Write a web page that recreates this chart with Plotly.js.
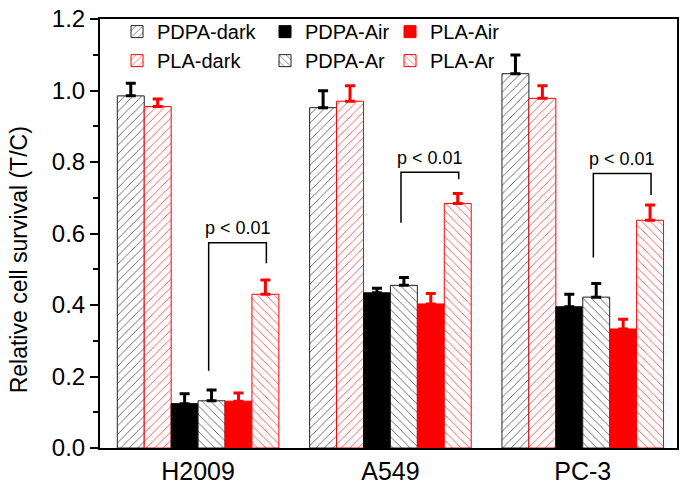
<!DOCTYPE html>
<html>
<head>
<meta charset="utf-8">
<script src="https://cdn.plot.ly/plotly-3.0.1.min.js"></script>
<style>html,body{margin:0;padding:0;background:#fff;}#chart{width:685px;height:486px;}</style>
</head>
<body>
<div id="chart"></div>
<script>
var categories = ["H2009", "A549", "PC-3"];
var seriesNames = ["PDPA-dark", "PLA-dark", "PDPA-Air", "PDPA-Ar", "PLA-Air", "PLA-Ar"];
var pdpaDark = [0.985, 0.952, 1.047];
var pdpaDarkErr = [0.035, 0.047, 0.052];
var plaDark = [0.955, 0.970, 0.978];
var plaDarkErr = [0.021, 0.043, 0.035];
var pdpaAir = [0.124, 0.434, 0.395];
var pdpaAirErr = [0.028, 0.013, 0.035];
var pdpaAr = [0.132, 0.455, 0.422];
var pdpaArErr = [0.030, 0.022, 0.038];
var plaAir = [0.131, 0.403, 0.333];
var plaAirErr = [0.023, 0.029, 0.027];
var plaAr = [0.430, 0.684, 0.637];
var plaArErr = [0.040, 0.028, 0.043];
var yTickVals = [0.0, 0.2, 0.4, 0.6, 0.8, 1.0, 1.2];
// significance brackets
var sigLabel = "p < 0.01";
var bracketTop = [0.574, 0.771, 0.768];
var bracketLeftBottom = [0.216, 0.630, 0.533];
var bracketRightBottom = [0.517, 0.752, 0.708];

var FONT = "Liberation Sans, Arial, sans-serif";
function mk(name, y, err, color, shape, legendId) {
  var marker;
  if (shape) {
    marker = {color: "white", line: {color: color === "black" ? "#222" : "#f00", width: 1},
      pattern: {shape: shape, fgcolor: color === "black" ? "#333" : "#f22", bgcolor: "white", size: 6, solidity: 0.12}};
  } else {
    marker = {color: color, line: {color: color, width: 1}};
  }
  return {
    type: "bar", name: name, x: categories, y: y,
    marker: marker, legend: legendId,
    error_y: {type: "data", symmetric: false, array: err, arrayminus: err.map(function(){return 0;}),
      color: color === "black" ? "black" : "#f00", thickness: 3, width: 5}
  };
}
var data = [
  mk(seriesNames[0], pdpaDark, pdpaDarkErr, "black", "/", "legend"),
  mk(seriesNames[1], plaDark, plaDarkErr, "red", "/", "legend"),
  mk(seriesNames[2], pdpaAir, pdpaAirErr, "black", null, "legend2"),
  mk(seriesNames[3], pdpaAr, pdpaArErr, "black", "\\", "legend2"),
  mk(seriesNames[4], plaAir, plaAirErr, "#f00", null, "legend3"),
  mk(seriesNames[5], plaAr, plaArErr, "red", "\\", "legend3")
];

var shapes = [], annotations = [];
var offL = 0.055, offR = 0.355;
for (var i = 0; i < categories.length; i++) {
  shapes.push({type: "path", xref: "x", yref: "y",
    path: "M" + (i + offL) + "," + bracketLeftBottom[i] + " L" + (i + offL) + "," + bracketTop[i] +
          " L" + (i + offR) + "," + bracketTop[i] + " L" + (i + offR) + "," + bracketRightBottom[i],
    line: {color: "black", width: 1.5}});
  annotations.push({xref: "x", yref: "y", x: i + (offL + offR) / 2, y: bracketTop[i] + 0.008,
    text: sigLabel, showarrow: false, yanchor: "bottom", font: {family: FONT, size: 18, color: "black"}});
}
annotations.push({xref: "paper", yref: "paper", x: -0.14, y: 0.438, xanchor: "center", yanchor: "middle",
  text: "Relative cell survival (T/C)", textangle: -90, showarrow: false,
  font: {family: FONT, size: 23, color: "black"}});

function leg(x) {
  return {orientation: "v", x: x, y: 1.016, xanchor: "left", yanchor: "top", traceorder: "normal",
    font: {family: FONT, size: 20, color: "black"}, bgcolor: "rgba(0,0,0,0)", borderwidth: 0};
}

var layout = {
  width: 685, height: 486,
  margin: {l: 100, r: 8, t: 19, b: 38, autoexpand: false},
  paper_bgcolor: "white", plot_bgcolor: "white",
  barmode: "group", bargap: 0.16, bargroupgap: 0,
  showlegend: true,
  legend: leg(0.0295), legend2: leg(0.286), legend3: leg(0.5026),
  xaxis: {type: "category", range: [-0.51, 2.49], showline: true, linecolor: "black", linewidth: 2,
    mirror: true, ticks: "", showgrid: false, zeroline: false,
    tickfont: {family: FONT, size: 25, color: "black"}},
  yaxis: {range: [0, 1.2], tickvals: yTickVals, tickformat: ".1f", showline: true, linecolor: "black",
    linewidth: 2, mirror: true, ticks: "outside", ticklen: 8, tickwidth: 2, tickcolor: "black",
    minor: {dtick: 0.1, ticks: "outside", ticklen: 5, tickwidth: 2, tickcolor: "black", showgrid: false},
    showgrid: false, zeroline: false,
    tickfont: {family: FONT, size: 24, color: "black"}},
  shapes: shapes, annotations: annotations
};
Plotly.newPlot("chart", data, layout, {displayModeBar: false, staticPlot: true});
</script>
</body>
</html>
